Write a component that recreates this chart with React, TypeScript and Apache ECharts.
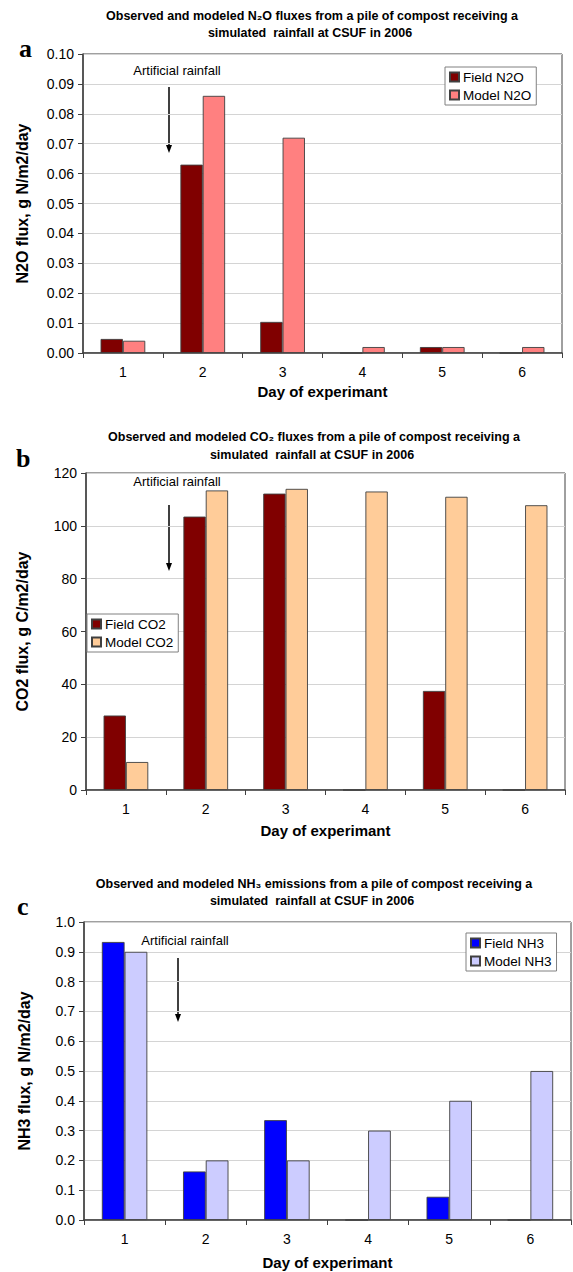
import React, { useEffect, useRef } from "react";
import * as echarts from "echarts";

const days = ["1", "2", "3", "4", "5", "6"];
const fieldN2O = [0.0047, 0.063, 0.0104, 0, 0.002, 0];
const modelN2O = [0.0041, 0.086, 0.072, 0.002, 0.002, 0.002];
const fieldCO2 = [28.2, 103.5, 112.2, 0, 37.5, 0];
const modelCO2 = [10.6, 113.4, 114, 113, 111, 107.8];
const fieldNH3 = [0.933, 0.163, 0.335, 0, 0.078, 0];
const modelNH3 = [0.9, 0.2, 0.2, 0.3, 0.4, 0.5];

const titleA1 = "Observed and modeled N\u2082O fluxes from a pile of compost receiving a";
const titleB1 = "Observed and modeled CO\u2082 fluxes from a pile of compost receiving a";
const titleC1 = "Observed and modeled NH\u2083 emissions from a pile of compost receiving a";
const title2 = "simulated  rainfall at CSUF in 2006";

const FONT = "'Liberation Sans', Arial, sans-serif";

export default function App() {
  const ref = useRef<HTMLDivElement>(null);
  useEffect(() => {
    if (!ref.current) return;
    const chart = echarts.init(ref.current, null, { renderer: "svg" });

    const panels = [
      {
        grid: { left: 83, top: 54, width: 479, height: 299 },
        y: { min: 0, max: 0.1, interval: 0.01, dec: 2, name: "N2O flux, g N/m2/day", gap: 53 },
        xgap: 31,
        series: [
          { name: "Field N2O", data: fieldN2O, color: "#800000" },
          { name: "Model N2O", data: modelN2O, color: "#FF8080" },
        ],
        legend: { left: 445, top: 67 },
      },
      {
        grid: { left: 86, top: 473, width: 479, height: 317 },
        y: { min: 0, max: 120, interval: 20, dec: 0, name: "CO2 flux, g C/m2/day", gap: 56 },
        xgap: 33,
        series: [
          { name: "Field CO2", data: fieldCO2, color: "#800000" },
          { name: "Model CO2", data: modelCO2, color: "#FFCC99" },
        ],
        legend: { left: 87, top: 614 },
      },
      {
        grid: { left: 84, top: 922, width: 487, height: 298 },
        y: { min: 0, max: 1.0, interval: 0.1, dec: 1, name: "NH3 flux, g N/m2/day", gap: 52 },
        xgap: 35,
        series: [
          { name: "Field NH3", data: fieldNH3, color: "#0000FF" },
          { name: "Model NH3", data: modelNH3, color: "#CCCCFF" },
        ],
        legend: { left: 466, top: 933 },
      },
    ];

    const grid: any[] = [];
    const xAxis: any[] = [];
    const yAxis: any[] = [];
    const series: any[] = [];
    const legend: any[] = [];

    panels.forEach((p, i) => {
      grid.push({ ...p.grid, show: true, borderColor: "#404040", borderWidth: 1, containLabel: false });
      xAxis.push({
        type: "category",
        gridIndex: i,
        data: days,
        name: "Day of experimant",
        nameLocation: "middle",
        nameGap: p.xgap,
        nameTextStyle: { fontFamily: FONT, fontSize: 15, fontWeight: "bold", color: "#000", verticalAlign: "top" },
        axisLine: { lineStyle: { color: "#404040", width: 1.5 } },
        axisTick: { show: true, length: 5, lineStyle: { color: "#404040" } },
        axisLabel: { fontFamily: FONT, fontSize: 14, color: "#000", margin: 12 },
        splitLine: { show: false },
      });
      yAxis.push({
        type: "value",
        gridIndex: i,
        min: p.y.min,
        max: p.y.max,
        interval: p.y.interval,
        name: p.y.name,
        nameLocation: "middle",
        nameGap: p.y.gap,
        nameRotate: 90,
        nameTextStyle: { fontFamily: FONT, fontSize: 16, fontWeight: "bold", color: "#000" },
        axisLine: { show: true, lineStyle: { color: "#404040", width: 1.5 } },
        axisTick: { show: true, length: 5, lineStyle: { color: "#404040" } },
        axisLabel: {
          fontFamily: FONT,
          fontSize: 14,
          color: "#000",
          margin: 9,
          formatter: (v: number) => v.toFixed(p.y.dec),
        },
        splitLine: { show: true, lineStyle: { color: "#d4d4d4", width: 1 } },
      });
      p.series.forEach((s) => {
        series.push({
          type: "bar",
          name: s.name,
          xAxisIndex: i,
          yAxisIndex: i,
          data: s.data,
          barGap: "0%",
          barCategoryGap: "44%",
          itemStyle: { color: s.color, borderColor: "#404040", borderWidth: 0.9 },
        });
      });
      legend.push({
        left: p.legend.left,
        top: p.legend.top,
        orient: "vertical",
        data: p.series.map((s) => s.name),
        icon: "rect",
        itemWidth: 9,
        itemHeight: 9,
        itemGap: 4,
        padding: [3, 5, 3, 4],
        borderColor: "#808080",
        borderWidth: 1,
        backgroundColor: "#fff",
        textStyle: { fontFamily: FONT, fontSize: 13.5, color: "#000", padding: [0, 0, 0, -1] },
        selectedMode: false,
      });
    });

    const titleStyle = { fontFamily: FONT, fontSize: 12.5, fontWeight: "bold", fill: "#000", align: "center", verticalAlign: "middle" };
    const letterStyle = { fontFamily: "'Liberation Serif', 'Times New Roman', serif", fontSize: 26, fontWeight: "bold", fill: "#000", verticalAlign: "alphabetic" };
    const annStyle = { fontFamily: FONT, fontSize: 13, fill: "#000", align: "center", verticalAlign: "middle" };

    const arrow = (x: number, y1: number, y2: number) => [
      { type: "line", shape: { x1: x, y1, x2: x, y2: y2 - 6 }, style: { stroke: "#000", lineWidth: 1.5 } },
      { type: "polygon", shape: { points: [[x - 3, y2 - 8], [x + 3, y2 - 8], [x, y2]] }, style: { fill: "#000" } },
    ];

    const graphic: any[] = [
      { type: "text", x: 19, y: 35, style: { ...letterStyle, text: "a" } },
      { type: "text", x: 16, y: 445, style: { ...letterStyle, text: "b" } },
      { type: "text", x: 17, y: 893, style: { ...letterStyle, text: "c" } },
      { type: "text", x: 312, y: 16, style: { ...titleStyle, text: titleA1 } },
      { type: "text", x: 310, y: 33, style: { ...titleStyle, text: title2 } },
      { type: "text", x: 314, y: 437, style: { ...titleStyle, text: titleB1 } },
      { type: "text", x: 312, y: 455, style: { ...titleStyle, text: title2 } },
      { type: "text", x: 314, y: 884, style: { ...titleStyle, text: titleC1 } },
      { type: "text", x: 312, y: 901, style: { ...titleStyle, text: title2 } },
      { type: "text", x: 177, y: 70, style: { ...annStyle, text: "Artificial rainfall" } },
      { type: "text", x: 177, y: 481, style: { ...annStyle, text: "Artificial rainfall" } },
      { type: "text", x: 185, y: 940, style: { ...annStyle, text: "Artificial rainfall" } },
      ...arrow(169, 87, 153),
      ...arrow(169, 505, 571),
      ...arrow(178, 958, 1022),
    ];

    chart.setOption({
      animation: false,
      backgroundColor: "#fff",
      grid,
      xAxis,
      yAxis,
      series,
      legend,
      graphic,
    });
    return () => chart.dispose();
  }, []);

  return (
    <div
      ref={ref}
      style={{ position: "absolute", left: 0, top: 0, width: 573, height: 1272, background: "#fff" }}
    />
  );
}
